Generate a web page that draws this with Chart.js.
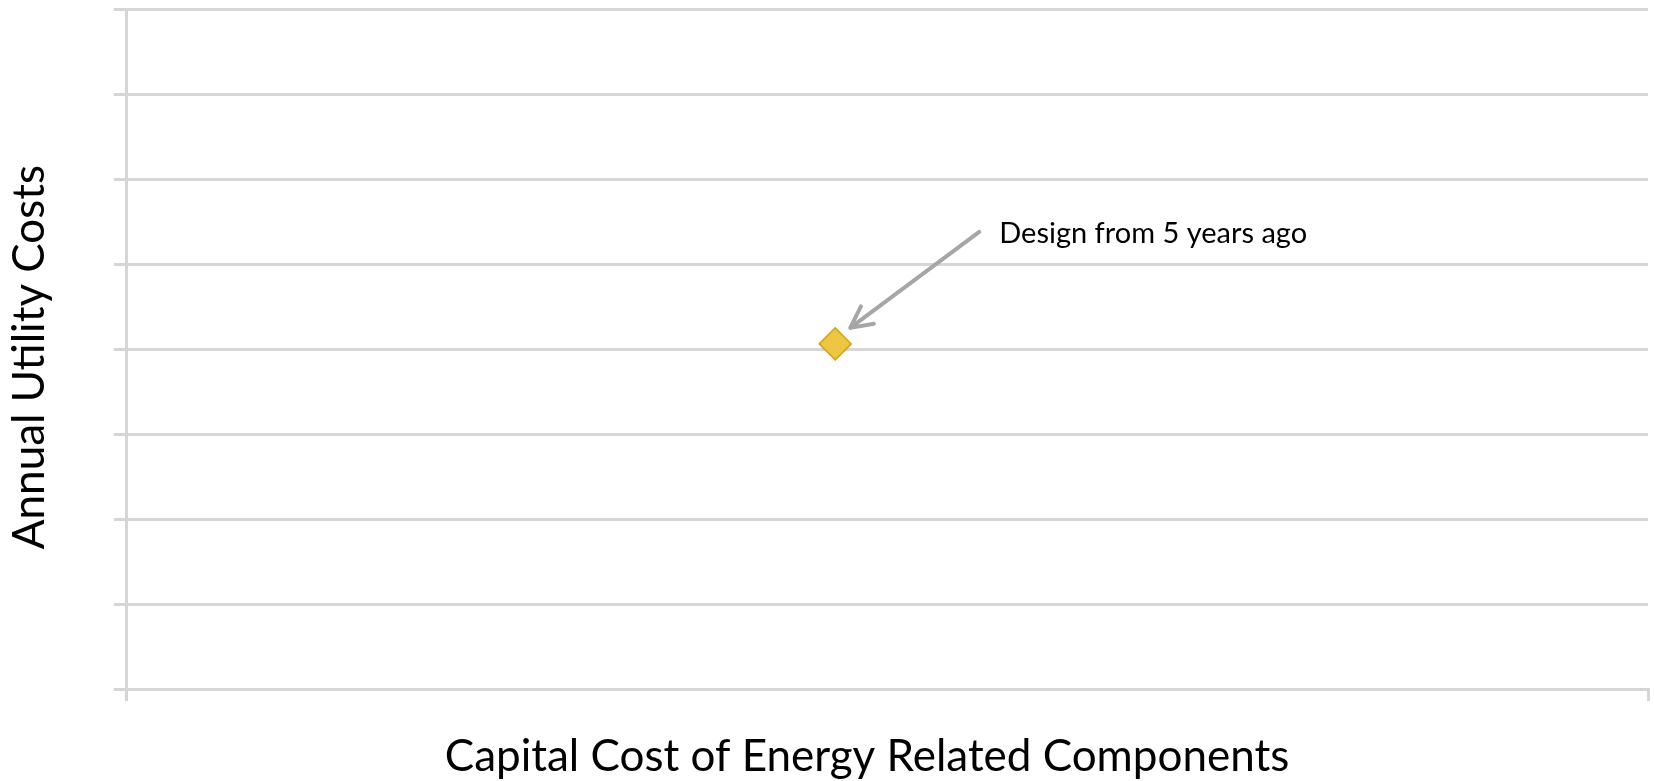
<!DOCTYPE html>
<html>
<head>
<meta charset="utf-8">
<title>Annual Utility Costs vs Capital Cost</title>
<script src="https://cdn.jsdelivr.net/npm/chart.js@4/dist/chart.umd.min.js"></script>
<style>
  html, body { margin: 0; padding: 0; background: #fff; }
  #chartBox { width: 1654px; height: 781px; }
</style>
</head>
<body>
<div id="chartBox"><canvas id="tradeoffChart" width="1654" height="781"></canvas></div>
<script>
// Data for the single design point
const designLabels = ['Design from 5 years ago'];
const capitalCost = [4.66];     // x, relative units (axis 0-10)
const utilityCost = [4.06];     // y, relative units (axis 0-8)

// Axis ranges (no numbers are printed on either axis)
const xRange = [0, 10];
const yRange = [0, 8];

const xTitle = 'Capital Cost of Energy Related Components';
const yTitle = 'Annual Utility Costs';

const GRID_COLOR = '#d6d6d6';
const FONT = 'Lato, "Open Sans", sans-serif';

// Draws the axis titles and the arrow callout next to the point
const calloutPlugin = {
  id: 'callout',
  afterDraw(chart) {
    const ctx = chart.ctx;
    const area = chart.chartArea;
    const xs = chart.scales.x;
    const ys = chart.scales.y;

    ctx.save();
    ctx.fillStyle = '#000';

    // x axis title
    ctx.font = '44px ' + FONT;
    ctx.textAlign = 'center';
    ctx.textBaseline = 'alphabetic';
    ctx.fillText(xTitle, (area.left + area.right) / 2 - 20, area.bottom + 82);

    // y axis title, rotated
    ctx.translate(30, (area.top + area.bottom) / 2 + 8);
    ctx.rotate(-Math.PI / 2);
    ctx.textBaseline = 'middle';
    ctx.fillText(yTitle, 0, 0);
    ctx.restore();

    // arrow pointing at the design point
    designLabels.forEach((label, i) => {
      const px = xs.getPixelForValue(capitalCost[i]);
      const py = ys.getPixelForValue(utilityCost[i]);
      const tipX = px + 15, tipY = py - 16;
      const tailX = px + 144, tailY = py - 112;
      const ang = Math.atan2(tailY - tipY, tailX - tipX);
      const head = 24, spread = 0.47;

      ctx.save();
      ctx.strokeStyle = '#a6a6a6';
      ctx.lineWidth = 4;
      ctx.lineCap = 'round';
      ctx.lineJoin = 'round';
      ctx.beginPath();
      ctx.moveTo(tailX, tailY);
      ctx.lineTo(tipX, tipY);
      ctx.moveTo(tipX + head * Math.cos(ang - spread), tipY + head * Math.sin(ang - spread));
      ctx.lineTo(tipX, tipY);
      ctx.lineTo(tipX + head * Math.cos(ang + spread), tipY + head * Math.sin(ang + spread));
      ctx.stroke();

      ctx.fillStyle = '#000';
      ctx.font = '29px ' + FONT;
      ctx.textAlign = 'left';
      ctx.textBaseline = 'alphabetic';
      ctx.fillText(label, px + 164, py - 101);
      ctx.restore();
    });
  }
};

const ctx = document.getElementById('tradeoffChart').getContext('2d');
new Chart(ctx, {
  type: 'scatter',
  data: {
    datasets: [{
      label: designLabels[0],
      data: capitalCost.map((x, i) => ({ x: x, y: utilityCost[i] })),
      pointStyle: 'rectRot',
      pointRadius: 16,
      pointHoverRadius: 16,
      pointBackgroundColor: '#efc643',
      pointBorderColor: '#d4a412',
      pointBorderWidth: 1.5
    }]
  },
  options: {
    responsive: false,
    animation: false,
    layout: { autoPadding: false, padding: { top: 9, right: 6, left: 0, bottom: 0 } },
    plugins: {
      legend: { display: false },
      tooltip: { enabled: false }
    },
    scales: {
      x: {
        type: 'linear',
        min: xRange[0],
        max: xRange[1],
        ticks: { display: false, stepSize: xRange[1] - xRange[0] },
        grid: { drawOnChartArea: false, color: GRID_COLOR, lineWidth: 3, tickLength: 12 },
        border: { display: true, color: GRID_COLOR, width: 3 },
        afterFit: (scale) => { scale.height = 92; }
      },
      y: {
        type: 'linear',
        min: yRange[0],
        max: yRange[1],
        ticks: { display: false, stepSize: 1 },
        grid: { color: GRID_COLOR, lineWidth: 3, tickLength: 12 },
        border: { display: true, color: GRID_COLOR, width: 3 },
        afterFit: (scale) => { scale.width = 126; }
      }
    }
  },
  plugins: [calloutPlugin]
});
</script>
</body>
</html>
